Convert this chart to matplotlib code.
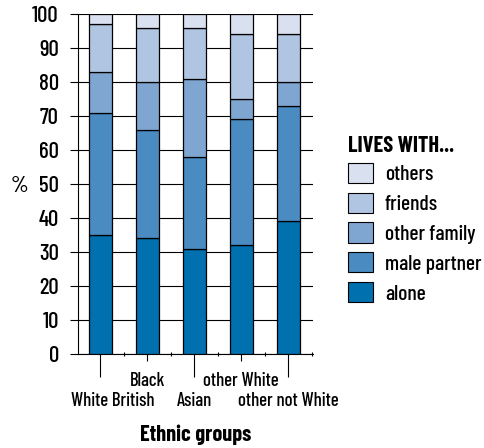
import matplotlib
matplotlib.use("Agg")
import matplotlib.pyplot as plt
from matplotlib.patches import Patch
from matplotlib.transforms import ScaledTranslation
import numpy as np

plt.rcParams['font.family'] = ['Barlow Condensed', 'DejaVu Sans']
plt.rcParams['font.weight'] = 'medium'

groups = ["White British", "Black", "Asian", "other White", "other not White"]
series = ["alone", "male partner", "other family", "friends", "others"]
alone = [35, 34, 31, 32, 39]
male_partner = [36, 32, 27, 37, 34]
other_family = [12, 14, 23, 6, 7]
friends = [14, 16, 15, 19, 14]
others = [3, 4, 4, 6, 6]
colors = ["#0070ae", "#4a8bc2", "#7fa6d1", "#b0c5e2", "#d9e0f0"]

values = [alone, male_partner, other_family, friends, others]

fig = plt.figure(figsize=(4.85, 4.48), dpi=100)
ax = fig.add_axes([0.1608, 0.2098, 0.4845, 0.7589])

x = np.arange(len(groups))
bottom = np.zeros(len(groups))
for vals, name, c in zip(values, series, colors):
    ax.bar(x, vals, width=0.49, bottom=bottom, color=c, edgecolor="black",
           linewidth=0.9, label=name, zorder=3)
    bottom += np.array(vals)

ax.set_xlim(-0.47, 4.53)
ax.set_ylim(0, 100)
ax.set_yticks(range(0, 101, 10))
ax.tick_params(axis='y', length=5.8, width=0.8, pad=8, labelsize=16.5)
ax.grid(axis='y', color='black', linewidth=0.8, zorder=0)

for side in ['top', 'right']:
    ax.spines[side].set_visible(False)
ax.spines['left'].set_linewidth(0.8)
ax.spines['bottom'].set_linewidth(0.8)

# staggered category labels: long ticks for 0,2,4, short for 1,3
ax.set_xticks([0, 2, 4])
ax.set_xticklabels([groups[0], groups[2], groups[4]])
ax.set_xticks([1, 3], minor=True)
ax.set_xticklabels([groups[1], groups[3]], minor=True)
ax.tick_params(axis='x', which='major', length=16.5, width=0.8, pad=11, labelsize=13.5)
ax.tick_params(axis='x', which='minor', length=5, width=0.8, pad=8, labelsize=13.5)
# nudge first label to the right
lbl = ax.get_xticklabels()[0]
lbl.set_transform(lbl.get_transform() + ScaledTranslation(0.125, 0, fig.dpi_scale_trans))

# small ticks between categories
sec = ax.secondary_xaxis('bottom')
sec.set_xticks(np.arange(0.5, 5, 1))
sec.set_xticklabels([])
sec.tick_params(length=3, width=0.8, direction='inout')
sec.spines['bottom'].set_visible(False)

ax.set_xlabel("Ethnic groups", fontsize=16, fontweight='bold', labelpad=10)
fig.text(0.041, 0.585, "%", fontsize=16.5, ha='center', va='center')

handles = [Patch(facecolor=c, edgecolor='black', linewidth=0.8) for c in colors][::-1]
leg = fig.legend(handles, series[::-1], title="LIVES WITH...", loc='upper left',
                 bbox_to_anchor=(0.717, 0.697), frameon=False, fontsize=15.5,
                 title_fontproperties={'weight': 'bold', 'size': 16},
                 handlelength=1.16, handleheight=1.07, labelspacing=0.39,
                 handletextpad=0.56, borderaxespad=0, borderpad=0)
leg._legend_box.align = "left"
leg._legend_box.sep = 5

fig.savefig("out.png", dpi=100)
